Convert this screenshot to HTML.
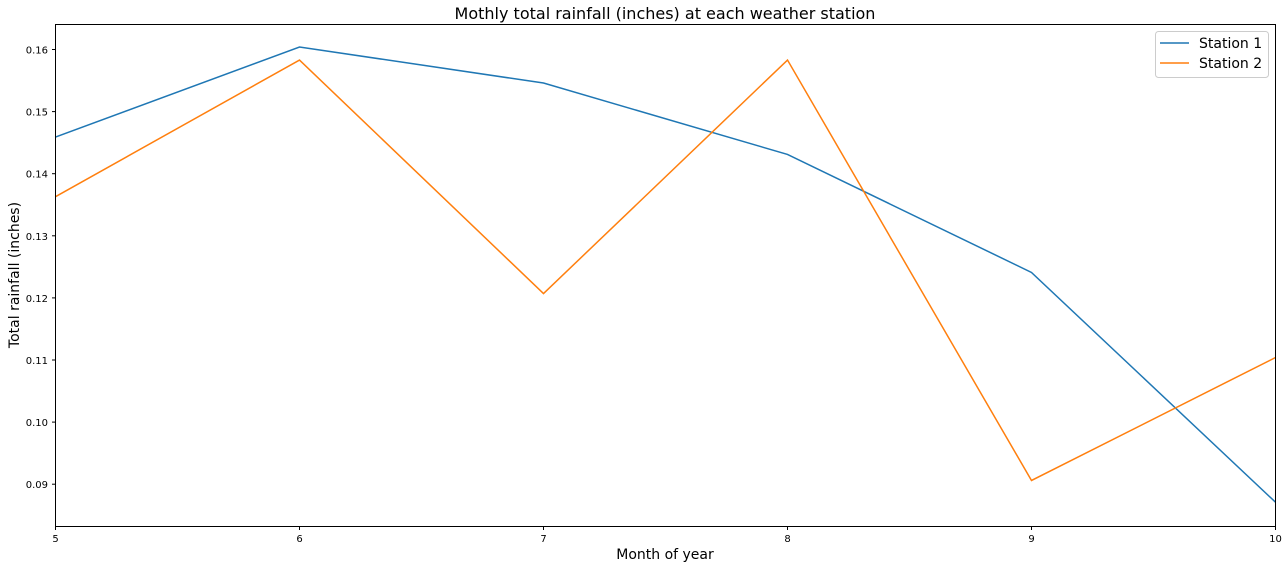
<!DOCTYPE html>
<html><head><meta charset="utf-8"><style>
body{margin:0;background:#fff;}
svg text{font-family:"DejaVu Sans","Liberation Sans",sans-serif;fill:#000;}
</style></head><body>
<svg width="1288" height="568">
<text x="665" y="19" font-size="16" text-anchor="middle">Mothly total rainfall (inches) at each weather station</text>
<g id="axes"></g>
<rect x="55.5" y="24.5" width="1220" height="502" fill="none" stroke="#000" stroke-width="1"/>
<text x="665" y="559" font-size="14" text-anchor="middle">Month of year</text>
<text transform="translate(19,275) rotate(-90)" font-size="14" text-anchor="middle">Total rainfall (inches)</text>
<g>
<rect x="1155.5" y="31.5" width="113" height="46" rx="3" fill="#fff" stroke="#ccc"/>
<line x1="1160" y1="43" x2="1189" y2="43" stroke="#1f77b4" stroke-width="1.5"/>
<text x="1199" y="48" font-size="14">Station 1</text>
<line x1="1160" y1="63" x2="1189" y2="63" stroke="#ff7f0e" stroke-width="1.5"/>
<text x="1199" y="68" font-size="14">Station 2</text>
</g>
</svg>
<script>
const months=[5,6,7,8,9,10];
const station1=[0.1459,0.1604,0.1546,0.1431,0.1241,0.0871];
const station2=[0.1363,0.1583,0.1207,0.1583,0.0906,0.1104];
const yTicks=[0.09,0.10,0.11,0.12,0.13,0.14,0.15,0.16];
const yLabels=["0.09","0.10","0.11","0.12","0.13","0.14","0.15","0.16"];
const xTicks=[5,6,7,8,9,10];
const NS="http://www.w3.org/2000/svg";
const g=document.getElementById('axes');
function xs(v){return 55.5+(v-5)/5*1220;}
function ys(v){return 49.5+(0.16-v)/0.01*62.1;}
function mk(t,a){const e=document.createElementNS(NS,t);for(const k in a)e.setAttribute(k,a[k]);return e;}
yTicks.forEach((v,i)=>{
 const l=mk('line',{x1:52,x2:55.5,y1:ys(v),y2:ys(v),stroke:'#000'});
 
 
 g.appendChild(l);
 const t=mk('text',{x:48,y:ys(v)+4,'font-size':10,'text-anchor':'end'});
 t.textContent=yLabels[i];
 
 
 g.appendChild(t);
});
xTicks.forEach(v=>{
 const l=mk('line',{x1:xs(v),x2:xs(v),y1:526.5,y2:530,stroke:'#000'});
 
 
 g.appendChild(l);
 const t=mk('text',{x:xs(v),y:542,'font-size':10,'text-anchor':'middle'});
 t.textContent=v;
 
 
 g.appendChild(t);
});
[[station1,'#1f77b4','station-1-line'],[station2,'#ff7f0e','station-2-line']].forEach(([d,c,n])=>{
 const p=mk('polyline',{points:d.map((v,i)=>xs(months[i])+','+ys(v)).join(' '),fill:'none',stroke:c,'stroke-width':1.5});
 
 
 g.appendChild(p);
});
</script>
</body></html>
